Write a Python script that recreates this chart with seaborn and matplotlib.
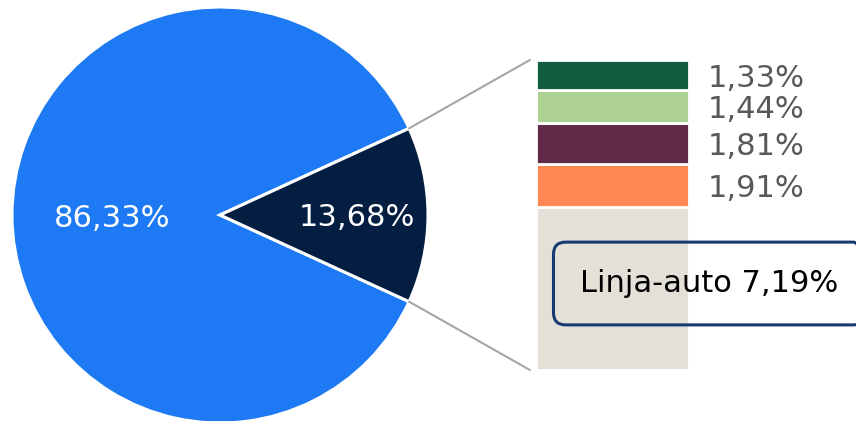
import matplotlib
matplotlib.use("Agg")
import numpy as np
import matplotlib.pyplot as plt
import seaborn as sns
from matplotlib.patches import ConnectionPatch

sns.set_theme(style="white")
plt.rcParams['font.family'] = ['DejaVu Sans']

# pie: everything else vs. the broken-down share
pie_values = [86.33, 13.68]
pie_labels = ["86,33%", "13,68%"]
pie_colors = ["#1e7af4", "#041e42"]

# breakdown of the small slice, bottom to top
bar_values = [7.19, 1.91, 1.81, 1.44, 1.33]
bar_labels = ["Linja-auto 7,19%", "1,91%", "1,81%", "1,44%", "1,33%"]
bar_colors = ["#e3e0d8", "#ff8751", "#622a49", "#aed294", "#125c3e"]

W, H = 856, 421
fig = plt.figure(figsize=(W / 100, H / 100), dpi=100)

# pie axes, placed in pixel terms
ax_pie = fig.add_axes([12 / W, (H - 423) / H, 416 / W, 416 / H])
small_half = pie_values[1] / sum(pie_values) * 180
wedges, _ = ax_pie.pie(pie_values, colors=pie_colors, startangle=small_half,
                       wedgeprops=dict(edgecolor="white", linewidth=2.2))
ax_pie.set_xlim(-1, 1)
ax_pie.set_ylim(-1, 1)
ax_pie.set_aspect("equal")
ax_pie.axis("off")

# percentage labels inside the wedges
for w, lab, dist in zip(wedges, pie_labels, [0.52, 0.66]):
    ang = np.deg2rad((w.theta1 + w.theta2) / 2)
    ax_pie.text(dist * np.cos(ang), dist * np.sin(ang), lab, color="white",
                fontsize=22, ha="center", va="center_baseline")

# stacked bar for the breakdown
ax_bar = fig.add_axes([536 / W, (H - 370) / H, 153 / W, 310 / H])
bottoms = np.concatenate([[0], np.cumsum(bar_values)[:-1]])
ax_bar.bar(0, bar_values, bottom=bottoms, width=1, color=bar_colors,
           edgecolor="white", linewidth=2)
ax_bar.set_xlim(-0.5, 0.5)
ax_bar.set_ylim(0, sum(bar_values))
ax_bar.axis("off")

# labels for the small segments, right of the bar
for val, bot, lab in zip(bar_values[1:], bottoms[1:], bar_labels[1:]):
    ax_bar.text(1.124, bot + val / 2, lab, color="#595959", fontsize=22,
                ha="left", va="center_baseline",
                transform=ax_bar.get_yaxis_transform(), clip_on=False)

# callout for the largest segment
ax_bar.text(1.134, 0.279, bar_labels[0], color="black", fontsize=22,
            ha="center", va="center", transform=ax_bar.transAxes, clip_on=False,
            bbox=dict(boxstyle="round,pad=0.88,rounding_size=0.4",
                      facecolor="none", edgecolor="#173a72", linewidth=2.2))

# connector lines from slice edges to the bar
for theta, ya in [(wedges[1].theta2, 1), (wedges[1].theta1, 0)]:
    t = np.deg2rad(theta)
    con = ConnectionPatch(xyA=(np.cos(t), np.sin(t)), coordsA=ax_pie.transData,
                          xyB=(-0.04, ya), coordsB=ax_bar.transAxes,
                          color="#a6a6a6", linewidth=1.5)
    fig.add_artist(con)

fig.savefig("out.png", dpi=100)
